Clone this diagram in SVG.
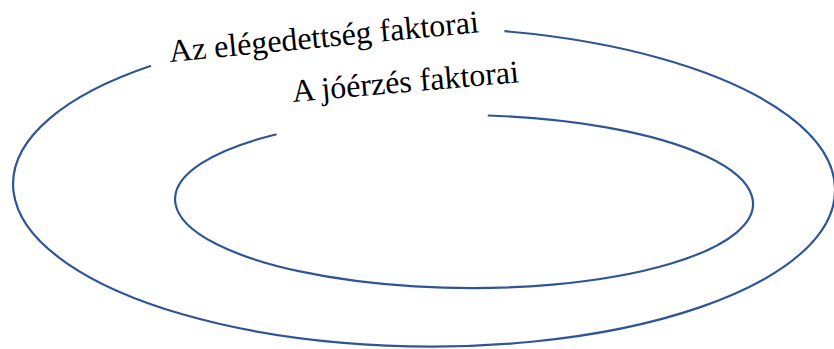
<svg xmlns="http://www.w3.org/2000/svg" width="834" height="349" viewBox="0 0 834 349">
  <style>
    .ring { fill: none; stroke: #2F5597; stroke-width: 2.2; }
    .label { font-family: "Liberation Serif", "Times New Roman", serif; font-size: 32px; fill: #000000; }
  </style>
  <rect x="0" y="0" width="834" height="349" fill="#FFFFFF"/>
  <g id="outer-ring">
    <path class="ring" d="M 504.4,31.2 A 411 159.5 0.5 1 1 151,65.8"/>
    <text class="label" x="170" y="62" transform="rotate(-5.5 170 62)">Az elégedettség faktorai</text>
  </g>
  <g id="inner-ring">
    <path class="ring" d="M 487.75,115.5 A 289 86.5 0.5 1 1 276.6,134.2"/>
    <text class="label" x="293" y="102" transform="rotate(-5 293 102)">A jóérzés faktorai</text>
  </g>
  <g id="connectors"/>
</svg>
